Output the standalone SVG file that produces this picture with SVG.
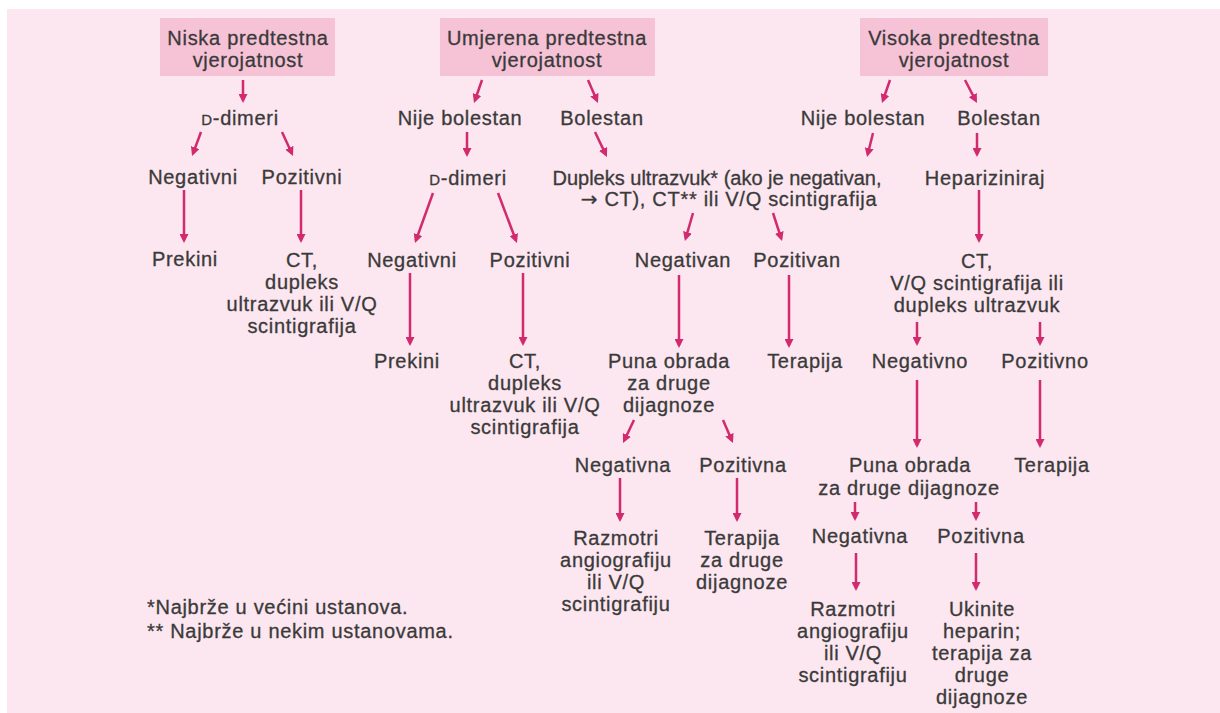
<svg xmlns="http://www.w3.org/2000/svg" width="1220" height="713" viewBox="0 0 1220 713">
<style>
.t{font-family:"Liberation Sans",Arial,sans-serif;font-size:20px;letter-spacing:0.7px;fill:#3a3a3a;stroke:#3a3a3a;stroke-width:0.3;text-anchor:middle}
.fn{text-anchor:start}
.tight{letter-spacing:0}
.arr{font-family:"DejaVu Sans",sans-serif;font-size:20px}
.hdr{fill:#f6c2d6;stroke:none}
.c line{stroke:#d22a6e;stroke-width:2.5;marker-end:url(#ah)}
.sc{font-size:15px}
</style>
<defs>
<marker id="ah" viewBox="0 0 10 10" refX="7" refY="5" markerWidth="9" markerHeight="9" markerUnits="userSpaceOnUse" orient="auto">
<path d="M0,0 L10,5 L0,10 z" fill="#d22a6e"/>
</marker>
</defs>
<rect x="0" y="0" width="1220" height="713" fill="#ffffff"/>
<rect x="7" y="9" width="1213" height="704" fill="#fce6ef"/>

<g id="niska"><rect class="hdr" x="160" y="18" width="175" height="58"/><text class="t" x="248" y="45">Niska predtestna</text><text class="t" x="248" y="67">vjerojatnost</text></g>
<g id="umjerena"><rect class="hdr" x="440" y="18" width="215" height="58"/><text class="t" x="547" y="45">Umjerena predtestna</text><text class="t" x="547" y="67">vjerojatnost</text></g>
<g id="visoka"><rect class="hdr" x="860" y="18" width="188" height="58"/><text class="t" x="954" y="45">Visoka predtestna</text><text class="t" x="954" y="67">vjerojatnost</text></g>

<g id="l-ddimeri"><text class="t" x="240" y="125"><tspan class="sc">D</tspan>-dimeri</text></g>
<g id="l-neg"><text class="t" x="193" y="184">Negativni</text></g>
<g id="l-poz"><text class="t" x="302" y="184">Pozitivni</text></g>
<g id="l-prekini"><text class="t" x="185" y="266">Prekini</text></g>
<g id="l-ct"><text class="t" x="302" y="267">CT,</text><text class="t" x="302" y="289">dupleks</text><text class="t" x="302" y="311">ultrazvuk ili V/Q</text><text class="t" x="302" y="333">scintigrafija</text></g>

<g id="m-nije"><text class="t" x="460" y="125">Nije bolestan</text></g>
<g id="m-bol"><text class="t" x="602" y="125">Bolestan</text></g>
<g id="m-ddimeri"><text class="t" x="468" y="185"><tspan class="sc">D</tspan>-dimeri</text></g>
<g id="m-dupleks"><text class="t tight" x="717" y="185">Dupleks ultrazvuk* (ako je negativan,</text><text class="t" x="729" y="206"><tspan class="arr">→</tspan> CT), CT** ili V/Q scintigrafija</text></g>
<g id="m-neg"><text class="t" x="412" y="267">Negativni</text></g>
<g id="m-poz"><text class="t" x="530" y="267">Pozitivni</text></g>
<g id="m-prekini"><text class="t" x="407" y="368">Prekini</text></g>
<g id="m-ct"><text class="t" x="525" y="368">CT,</text><text class="t" x="525" y="390">dupleks</text><text class="t" x="525" y="412">ultrazvuk ili V/Q</text><text class="t" x="525" y="434">scintigrafija</text></g>
<g id="m-negativan"><text class="t" x="683" y="267">Negativan</text></g>
<g id="m-pozitivan"><text class="t" x="797" y="267">Pozitivan</text></g>
<g id="m-puna"><text class="t" x="669" y="368">Puna obrada</text><text class="t" x="669" y="390">za druge</text><text class="t" x="669" y="412">dijagnoze</text></g>
<g id="m-terapija"><text class="t" x="805" y="368">Terapija</text></g>
<g id="m-negativna"><text class="t" x="623" y="472">Negativna</text></g>
<g id="m-pozitivna"><text class="t" x="743" y="472">Pozitivna</text></g>
<g id="m-razmotri"><text class="t" x="616" y="545">Razmotri</text><text class="t" x="616" y="567">angiografiju</text><text class="t" x="616" y="589">ili V/Q</text><text class="t" x="616" y="611">scintigrafiju</text></g>
<g id="m-terapija2"><text class="t" x="742" y="545">Terapija</text><text class="t" x="742" y="567">za druge</text><text class="t" x="742" y="589">dijagnoze</text></g>

<g id="r-nije"><text class="t" x="863" y="125">Nije bolestan</text></g>
<g id="r-bol"><text class="t" x="999" y="125">Bolestan</text></g>
<g id="r-hep"><text class="t" x="985" y="185">Hepariziniraj</text></g>
<g id="r-ct"><text class="t" x="977" y="268">CT,</text><text class="t" x="977" y="290">V/Q scintigrafija ili</text><text class="t" x="977" y="312">dupleks ultrazvuk</text></g>
<g id="r-negativno"><text class="t" x="920" y="368">Negativno</text></g>
<g id="r-pozitivno"><text class="t" x="1045" y="368">Pozitivno</text></g>
<g id="r-puna"><text class="t" x="910" y="472">Puna obrada</text><text class="t" x="909" y="495">za druge dijagnoze</text></g>
<g id="r-terapija"><text class="t" x="1052" y="472">Terapija</text></g>
<g id="r-negativna"><text class="t" x="860" y="543">Negativna</text></g>
<g id="r-pozitivna"><text class="t" x="981" y="543">Pozitivna</text></g>
<g id="r-razmotri"><text class="t" x="853" y="616">Razmotri</text><text class="t" x="853" y="638">angiografiju</text><text class="t" x="853" y="660">ili V/Q</text><text class="t" x="853" y="682">scintigrafiju</text></g>
<g id="r-ukinite"><text class="t" x="982" y="616">Ukinite</text><text class="t" x="982" y="638">heparin;</text><text class="t" x="982" y="660">terapija za</text><text class="t" x="982" y="682">druge</text><text class="t" x="982" y="704">dijagnoze</text></g>

<g id="footnotes"><text class="t fn" x="147" y="614">*Najbrže u većini ustanova.</text><text class="t fn" x="147" y="638">** Najbrže u nekim ustanovama.</text></g>

<g id="connectors" class="c">
<line x1="243" y1="80" x2="243" y2="100.3"/>
<line x1="201" y1="132" x2="193" y2="153.5"/>
<line x1="282" y1="132" x2="291.9" y2="153.5"/>
<line x1="184" y1="190" x2="184" y2="240.3"/>
<line x1="301" y1="190" x2="301" y2="240.3"/>
<line x1="482" y1="80" x2="474.9" y2="100.5"/>
<line x1="588" y1="80" x2="596.9" y2="100.5"/>
<line x1="467" y1="132" x2="467" y2="154.3"/>
<line x1="595" y1="132" x2="605.8" y2="154.6"/>
<line x1="433" y1="193" x2="415.9" y2="240.5"/>
<line x1="498" y1="193" x2="516" y2="240.5"/>
<line x1="410" y1="273" x2="410" y2="343.3"/>
<line x1="523" y1="273" x2="523" y2="343.3"/>
<line x1="693" y1="213" x2="685.7" y2="238.4"/>
<line x1="773" y1="213" x2="781.2" y2="238.4"/>
<line x1="679" y1="275" x2="679" y2="345.3"/>
<line x1="789" y1="275" x2="789" y2="345.3"/>
<line x1="634" y1="420" x2="624.2" y2="440.6"/>
<line x1="723" y1="420" x2="731.9" y2="440.5"/>
<line x1="620" y1="478" x2="620" y2="519.3"/>
<line x1="737" y1="478" x2="737" y2="519.3"/>
<line x1="890" y1="80" x2="882.9" y2="100.5"/>
<line x1="965" y1="80" x2="975.7" y2="100.6"/>
<line x1="873" y1="133" x2="867.7" y2="154.4"/>
<line x1="977" y1="133" x2="977" y2="154.3"/>
<line x1="979" y1="190" x2="979" y2="240.3"/>
<line x1="917" y1="322" x2="917" y2="343.3"/>
<line x1="1040" y1="322" x2="1040" y2="343.3"/>
<line x1="917" y1="380" x2="917" y2="445.3"/>
<line x1="1040" y1="380" x2="1040" y2="445.3"/>
<line x1="855" y1="502" x2="855" y2="518.3"/>
<line x1="976" y1="502" x2="976" y2="518.3"/>
<line x1="856" y1="553" x2="856" y2="588.3"/>
<line x1="976" y1="553" x2="976" y2="588.3"/>
</g>
</svg>
